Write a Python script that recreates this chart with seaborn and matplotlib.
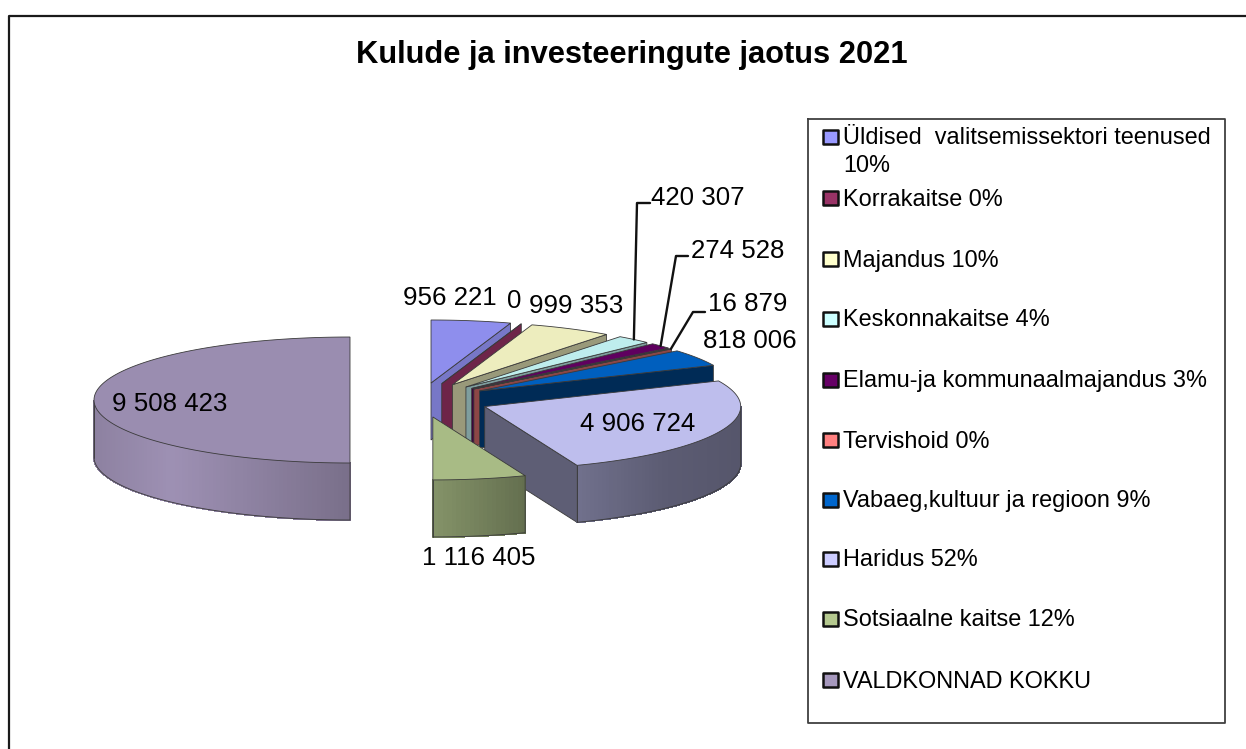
import numpy as np
import pandas as pd
import matplotlib
matplotlib.use("Agg")
import matplotlib.pyplot as plt
from matplotlib.collections import PolyCollection
import seaborn as sns

# values from the chart, clockwise from 12 o'clock
labels = ["Üldised  valitsemissektori teenused\n10%", "Korrakaitse 0%", "Majandus 10%",
          "Keskonnakaitse 4%", "Elamu-ja kommunaalmajandus 3%", "Tervishoid 0%",
          "Vabaeg,kultuur ja regioon 9%", "Haridus 52%", "Sotsiaalne kaitse 12%",
          "VALDKONNAD KOKKU"]
values = [956221, 0, 999353, 420307, 274528, 16879, 818006, 4906724, 1116405, 9508423]
base_colors = ["#9999ff", "#993366", "#ffffcc", "#ccffff", "#660066",
               "#ff8080", "#0066cc", "#ccccff", "#b5c98f", "#a698bd"]
wall_shades = [0.78, 0.72, 0.6, 0.62, 0.6, 0.55, 0.42, 0.46, 0.6, 0.7]

# pixel sized axes, the pie lives in these units
W, H = 1246, 749
CX, CY = 420, 400
RX, RY = 256, 63
DEPTH = 57
EXPLODE = 70
FS = 18.6

sns.set_theme(style="white")
plt.rcParams["font.family"] = ["Liberation Sans", "DejaVu Sans"]

fig = plt.figure(figsize=(W / 100, H / 100), dpi=100)
ax = fig.add_axes([0, 0, 1, 1])
ax.set_xlim(0, W)
ax.set_ylim(H, 0)
ax.axis("off")

palette = sns.color_palette(base_colors)


def shade(color, f):
    return tuple(min(1, c * f) for c in color)


def rim_point(theta, ox, oy):
    return ox + RX * np.sin(theta), oy - RY * np.cos(theta)


def rim_shade(theta):
    # lighting of the outer edge, depends on left/right position
    return np.interp(np.sin(theta), [-1, -0.7, 0, 0.36, 0.7, 1],
                     [0.85, 0.95, 0.73, 0.55, 0.45, 0.42])


angles = np.cumsum([0] + values) / sum(values) * 2 * np.pi
mids = (angles[:-1] + angles[1:]) / 2
offs_x = CX + EXPLODE * np.sin(mids)
offs_y = CY - EXPLODE * np.cos(mids) * RY / RX

LINE = "#3a3a3a"

for i, col in enumerate(palette):
    t0, t1 = angles[i], angles[i + 1]
    ox, oy = offs_x[i], offs_y[i]
    th = np.linspace(t0, t1, max(2, int((t1 - t0) * 60)))
    rx, ry = rim_point(th, ox, oy)
    z = 2 + i * 0.1

    # wall on the closing side of the slice
    if t1 < np.pi - 1e-6:
        ex, ey = rim_point(t1, ox, oy)
        ax.fill([ox, ex, ex, ox], [oy, ey, ey + DEPTH, oy + DEPTH],
                color=shade(col, wall_shades[i]), ec=LINE, lw=0.6, zorder=z)

    # outer edge, only the part facing the viewer
    mask = (th >= np.pi / 2) & (th <= 3 * np.pi / 2)
    if mask.sum() > 1:
        fx, fy = rx[mask], ry[mask]
        quads = [[(fx[k], fy[k]), (fx[k + 1], fy[k + 1]),
                  (fx[k + 1], fy[k + 1] + DEPTH), (fx[k], fy[k] + DEPTH)]
                 for k in range(len(fx) - 1)]
        quad_cols = [shade(col, rim_shade((th[mask][k] + th[mask][k + 1]) / 2))
                     for k in range(len(fx) - 1)]
        ax.add_collection(PolyCollection(quads, facecolors=quad_cols, edgecolors=quad_cols,
                                         linewidths=0.8, antialiaseds=False, zorder=z))
        ax.plot(np.r_[fx[0], fx, fx[-1]], np.r_[fy[0], fy + DEPTH, fy[-1]],
                color=LINE, lw=0.6, zorder=z)
        ax.plot([fx[-1], fx[-1]], [fy[-1], fy[-1] + DEPTH], color=LINE, lw=0.6, zorder=z)

    # top face
    ax.fill(np.r_[ox, rx], np.r_[oy, ry], color=shade(col, 0.93), ec=LINE, lw=0.6, zorder=z + 0.01)

# value labels, placed as in the original
label_pos = [(403, 298), (507, 301), (529, 306), (651, 198), (691, 251),
             (708, 304), (703, 341), (580, 424), (422, 558), (112, 404)]
for v, (lx, ly) in zip(values, label_pos):
    ax.text(lx, ly, f"{v:,}".replace(",", " "), fontsize=FS, color="black",
            ha="left", va="center", zorder=10)

# leader lines for the narrow slices
leaders = {3: (650, 203, 637), 4: (688, 256, 676), 5: (705, 312, 693)}
for i, (sx, sy, kx) in leaders.items():
    ex, ey = rim_point(mids[i], offs_x[i], offs_y[i])
    ax.plot([sx, kx, ex], [sy, sy, ey], color="#111111", lw=1.7, zorder=9)

ax.text(632, 55, "Kulude ja investeeringute jaotus 2021", fontsize=22.2, fontweight="bold",
        color="black", ha="center", va="center")

# outer chart frame, runs off the picture on the right and the bottom
ax.plot([8.5, 8.5, W], [H, 16, 16], color="#1a1a1a", lw=1.6, zorder=1)

# legend box
ax.plot([808, 1225, 1225, 808, 808], [119, 119, 723, 723, 119], color="#404040", lw=1.3, zorder=1)
legend_rows = [137, 198, 259, 319, 380, 440, 500, 559, 619, 680]
legend_df = pd.DataFrame({"x": 830.5, "y": legend_rows, "name": labels})
sns.scatterplot(data=legend_df, x="x", y="y", hue="name", palette=dict(zip(labels, palette)),
                marker="s", s=105, edgecolor="#111111", linewidth=1.8, legend=False, ax=ax, zorder=5)
for row, name in zip(legend_rows, labels):
    ax.text(843, row - 9.5, name, fontsize=FS * 0.912, color="black", ha="left", va="top",
            linespacing=1.3, zorder=6)

ax.set_xlim(0, W)
ax.set_ylim(H, 0)
ax.axis("off")
fig.savefig("out.png", dpi=100, facecolor="white")
